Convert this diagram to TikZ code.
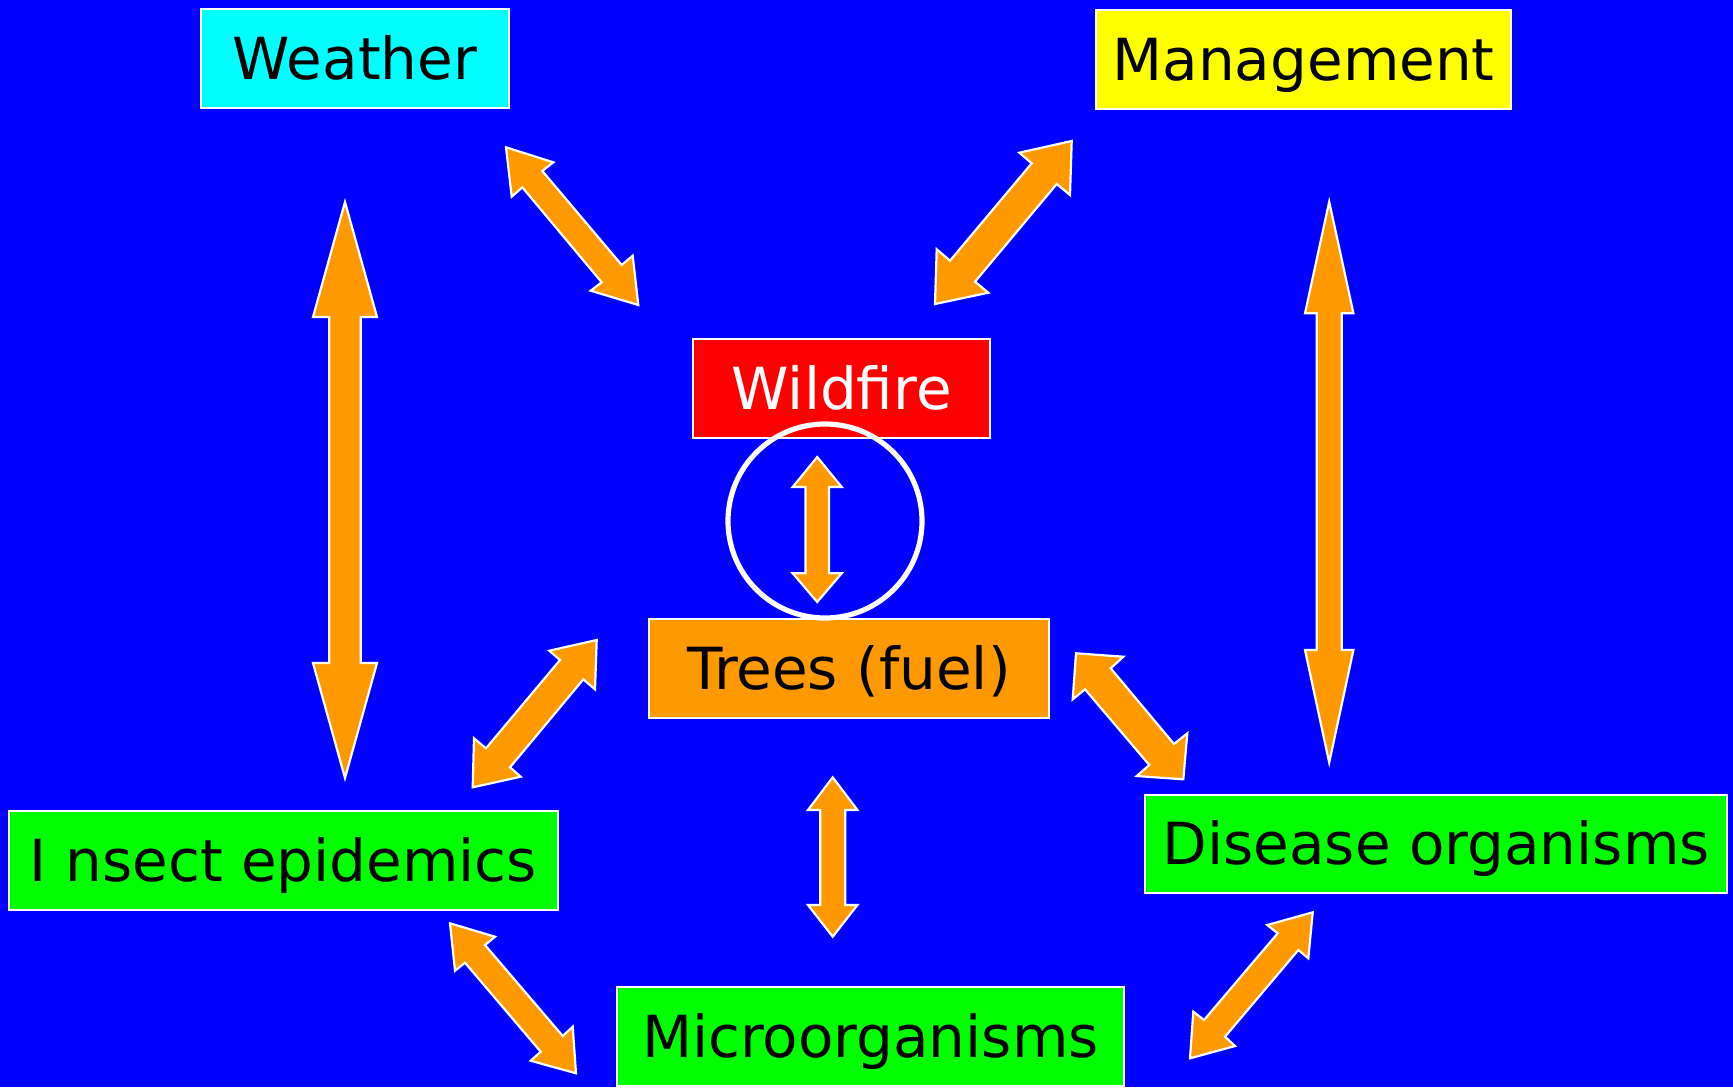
\documentclass[tikz,border=0pt]{standalone}
\usepackage{fontspec}
\setmainfont{DejaVu Sans}
\definecolor{bgblue}{RGB}{0,0,255}
\definecolor{arrorange}{RGB}{255,153,0}
\definecolor{boxcyan}{RGB}{0,255,255}
\definecolor{boxyellow}{RGB}{255,255,0}
\definecolor{boxred}{RGB}{255,0,0}
\definecolor{boxgreen}{RGB}{0,255,0}
\tikzset{
  box/.style={draw=white, line width=1pt, inner sep=0pt, minimum height=49.4pt,
    font=\fontsize{29}{34}\selectfont, text height=21pt, text depth=0pt},
  blockarrow/.style={fill=arrorange, draw=white, line width=1.1pt, line join=miter},
}
\newcommand\vertarrow[7]{% x, top tip, top base, bottom base, bottom tip, head half, shaft half
  \draw[blockarrow] (#1,#2) -- ({#1+#6},#3) -- ({#1+#7},#3) -- ({#1+#7},#4) -- ({#1+#6},#4)
    -- (#1,#5) -- ({#1-#6},#4) -- ({#1-#7},#4) -- ({#1-#7},#3) -- ({#1-#6},#3) -- cycle;}
\begin{document}
\begin{tikzpicture}[x=0.5pt,y=-0.5pt]
\fill[bgblue] (0,0) rectangle (1733,1087);
\useasboundingbox (0,0) rectangle (1733,1087);

% boxes
\node[box, fill=boxcyan, minimum width=154.3pt] (weather) at (355,58.8) {Weather};
\node[box, fill=boxyellow, minimum width=207.2pt] (mgmt) at (1303.6,59.1) {Management};
\node[box, fill=boxred, text=white, minimum width=148.6pt] (fire) at (841.7,388.5) {Wildfire};
\node[box, fill=arrorange, minimum width=200pt] (trees) at (848.9,668.2) {Trees (fuel)};
\node[box, fill=boxgreen, minimum width=274.6pt] (insect) at (283.5,860.4) {I nsect epidemics};
\node[box, fill=boxgreen, minimum width=291.2pt] (disease) at (1436.2,843.9) {Disease organisms};
\node[box, fill=boxgreen, minimum width=253.6pt] (micro) at (870.4,1036.5) {Microorganisms};

% circle around the wildfire-trees link
\coordinate (ring) at (825,521);
\draw[white, line width=2.6pt] (ring) circle [radius=48.5pt];

% vertical arrows
\vertarrow{345}{202}{317}{663}{778}{32}{15.7}
\vertarrow{1329.2}{201.7}{313.3}{650}{762.6}{24.2}{12.5}
\vertarrow{817.2}{457}{487}{573.3}{602}{24.5}{11.7}
\vertarrow{832.7}{777.3}{810}{905}{936.7}{24.7}{12.5}

% Weather -- Wildfire
\draw[blockarrow] (506,147.3) -- (553.3,162.3) -- (542.3,171) -- (621.7,265) -- (632.7,255.7)
  -- (638.3,305) -- (590.7,290.7) -- (601.7,282.3) -- (522.3,187.3) -- (511.7,196.7) -- cycle;
% Management -- Wildfire
\draw[blockarrow] (1071.7,141) -- (1019.3,152.7) -- (1031.7,163.3) -- (950,260.7) -- (936.7,249.3)
  -- (935,304) -- (988.3,292.7) -- (975,281.7) -- (1056.7,184) -- (1070,195) -- cycle;
% Trees -- Disease
\draw[blockarrow] (1076,653.3) -- (1123.3,656.7) -- (1110.7,668.3) -- (1174,744) -- (1187.3,733.3)
  -- (1183.3,779.3) -- (1136.7,776) -- (1149.3,765) -- (1085,689.3) -- (1072.7,699.3) -- cycle;
% Trees -- Insect
\draw[blockarrow] (596.7,640) -- (549.3,650.7) -- (560,660) -- (486,748.3) -- (474,738.3)
  -- (472.7,787.3) -- (520.7,776.7) -- (510,767.3) -- (583.3,679.3) -- (595,689.3) -- cycle;
% Insect -- Micro
\draw[blockarrow] (450,923.3) -- (495,936.7) -- (485,945) -- (562.7,1036) -- (572.7,1026.7)
  -- (576,1073.3) -- (530.7,1060.7) -- (540.7,1051.7) -- (465,962.7) -- (455,970.7) -- cycle;
% Disease -- Micro
\draw[blockarrow] (1312.7,912.3) -- (1267.3,925) -- (1277.7,933.3) -- (1204,1020) -- (1193.3,1011.7)
  -- (1190,1058.3) -- (1235,1046) -- (1225,1036.7) -- (1298.3,950) -- (1308.3,958.3) -- cycle;
\end{tikzpicture}
\end{document}
